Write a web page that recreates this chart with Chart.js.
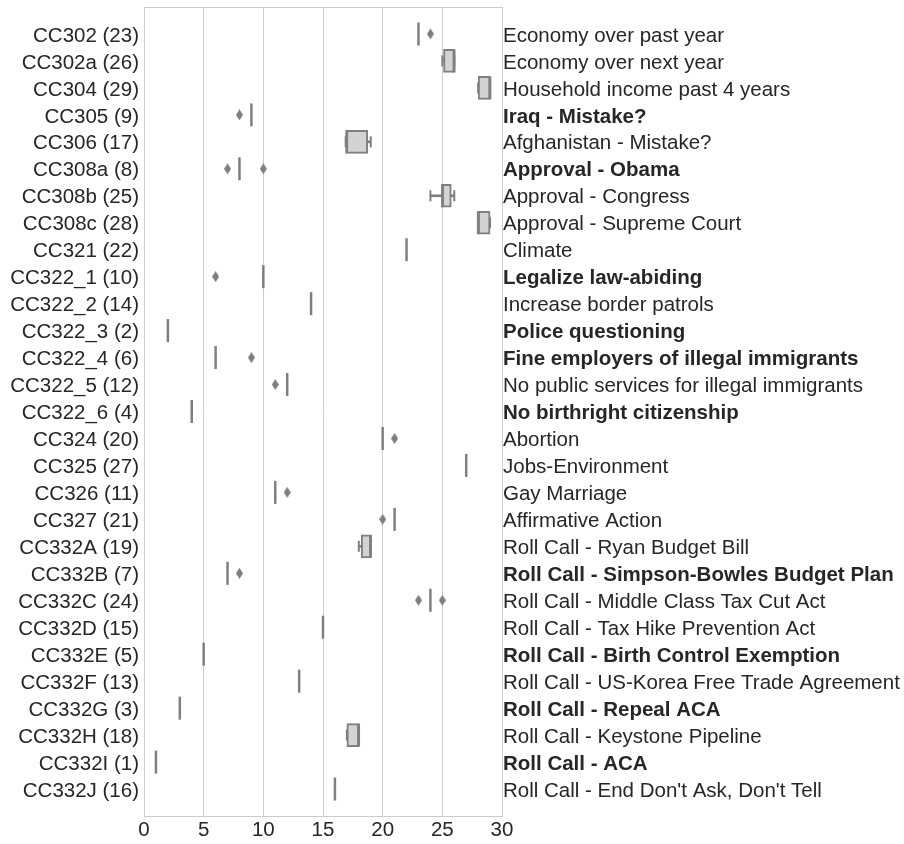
<!DOCTYPE html>
<html>
<head>
<meta charset="utf-8">
<script src="https://cdn.jsdelivr.net/npm/chart.js@4.4.0/dist/chart.umd.min.js"></script>
<style>
  body { margin: 0; background: #fff; }
  #wrap { width: 904px; height: 844px; }
</style>
</head>
<body>
<div id="wrap"><canvas id="chart" width="904" height="844"></canvas></div>
<script>
const codes = [
  'CC302 (23)', 'CC302a (26)', 'CC304 (29)', 'CC305 (9)', 'CC306 (17)', 'CC308a (8)',
  'CC308b (25)', 'CC308c (28)', 'CC321 (22)', 'CC322_1 (10)', 'CC322_2 (14)', 'CC322_3 (2)',
  'CC322_4 (6)', 'CC322_5 (12)', 'CC322_6 (4)', 'CC324 (20)', 'CC325 (27)', 'CC326 (11)',
  'CC327 (21)', 'CC332A (19)', 'CC332B (7)', 'CC332C (24)', 'CC332D (15)', 'CC332E (5)',
  'CC332F (13)', 'CC332G (3)', 'CC332H (18)', 'CC332I (1)', 'CC332J (16)'
];
const topics = [
  'Economy over past year', 'Economy over next year', 'Household income past 4 years',
  'Iraq - Mistake?', 'Afghanistan - Mistake?', 'Approval - Obama', 'Approval - Congress',
  'Approval - Supreme Court', 'Climate', 'Legalize law-abiding', 'Increase border patrols',
  'Police questioning', 'Fine employers of illegal immigrants',
  'No public services for illegal immigrants', 'No birthright citizenship', 'Abortion',
  'Jobs-Environment', 'Gay Marriage', 'Affirmative Action', 'Roll Call - Ryan Budget Bill',
  'Roll Call - Simpson-Bowles Budget Plan', 'Roll Call - Middle Class Tax Cut Act',
  'Roll Call - Tax Hike Prevention Act', 'Roll Call - Birth Control Exemption',
  'Roll Call - US-Korea Free Trade Agreement', 'Roll Call - Repeal ACA',
  'Roll Call - Keystone Pipeline', 'Roll Call - ACA', "Roll Call - End Don't Ask, Don't Tell"
];
const boldTopic = [
  false, false, false, true, false, true, false, false, false, true, false, true, true, false,
  true, false, false, false, false, false, true, false, false, true, false, true, false, true, false
];

const medians = [23, 26, 29, 9, 17, 8, 25, 28, 22, 10, 14, 2, 6, 12, 4, 20, 27, 11, 21, 19, 7, 24, 15, 5, 13, 3, 18, 1, 16];
const q1 = [null, 25.1, 28, null, 16.9, null, 25, 28, null, null, null, null, null, null, null,
  null, null, null, null, 18.2, null, null, null, null, null, null, 17, null, null];
const q3 = [null, 26, 29, null, 18.75, null, 25.75, 29, null, null, null, null, null, null, null,
  null, null, null, null, 19, null, null, null, null, null, null, 18, null, null];
const whiskerLo = [null, 25, 28, null, 16.9, null, 24, 28, null, null, null, null, null, null, null,
  null, null, null, null, 18, null, null, null, null, null, null, 17, null, null];
const whiskerHi = [null, 26, 29, null, 19, null, 26, 29, null, null, null, null, null, null, null,
  null, null, null, null, 19, null, null, null, null, null, null, 18, null, null];
const outliers = [[24], [], [], [8], [], [7, 10], [], [], [], [6], [], [], [9], [11], [],
  [21], [], [12], [20], [], [8], [23, 25], [], [], [], [], [], [], []];

const xTicks = [0, 5, 10, 15, 20, 25, 30];

const GRAY = '#7f7f7f';
const FILL = '#d3d3d3';
const TEXT = '#262626';
const LINE = '#cccccc';
const FAMILY = '"Liberation Sans", Arial, sans-serif';

function thinDiamond(w, h, color) {
  const c = document.createElement('canvas');
  c.width = w; c.height = h;
  const g = c.getContext('2d');
  g.fillStyle = color;
  g.beginPath();
  g.moveTo(w / 2, 0); g.lineTo(w, h / 2); g.lineTo(w / 2, h); g.lineTo(0, h / 2);
  g.closePath();
  g.fill();
  return c;
}

const rows = codes.map((_, i) => i);
const hasBox = i => q1[i] !== null;

const boxData = rows.filter(hasBox).map(i => ({ x: [q1[i], q3[i]], y: i }));
const lowWhisk = rows.filter(i => hasBox(i) && whiskerLo[i] < q1[i]).map(i => ({ x: [whiskerLo[i], q1[i]], y: i }));
const highWhisk = rows.filter(i => hasBox(i) && whiskerHi[i] > q3[i]).map(i => ({ x: [q3[i], whiskerHi[i]], y: i }));
const caps = rows.filter(hasBox).flatMap(i => [{ x: whiskerLo[i], y: i }, { x: whiskerHi[i], y: i }]);
const medianPts = rows.map(i => ({ x: medians[i], y: i }));
const outlierPts = rows.flatMap(i => outliers[i].map(v => ({ x: v, y: i })));

const rowTicks = scale => { scale.ticks = rows.map(i => ({ value: i })); };

// side axes: fixed widths, no extra label padding at top/bottom
const fixWidth = w => scale => {
  scale.width = w;
  scale.paddingTop = 0;
  scale.paddingBottom = 0;
};

const yBase = {
  type: 'linear',
  min: -1,
  max: 29,
  reverse: true,
  offset: false,
  grid: { display: false, drawTicks: false, offset: false },
  border: { display: true, color: LINE, width: 1 },
  afterBuildTicks: rowTicks
};

new Chart(document.getElementById('chart'), {
  type: 'bar',
  data: {
    datasets: [
      {
        type: 'scatter', data: outlierPts, order: 5,
        pointStyle: thinDiamond(7, 11, GRAY), radius: 4,
        xAxisID: 'x', yAxisID: 'y'
      },
      {
        type: 'scatter', data: caps, order: 4,
        pointStyle: 'line', rotation: 90, radius: 5.5,
        borderColor: GRAY, borderWidth: 2,
        xAxisID: 'x', yAxisID: 'y'
      },
      {
        data: lowWhisk, order: 4, grouped: false,
        backgroundColor: GRAY, borderWidth: 0, barThickness: 2,
        xAxisID: 'x', yAxisID: 'y'
      },
      {
        data: highWhisk, order: 4, grouped: false,
        backgroundColor: GRAY, borderWidth: 0, barThickness: 2,
        xAxisID: 'x', yAxisID: 'y'
      },
      {
        data: boxData, order: 2, grouped: false,
        backgroundColor: FILL, borderColor: GRAY, borderWidth: 2,
        borderSkipped: false, barThickness: 23,
        xAxisID: 'x', yAxisID: 'y'
      },
      {
        type: 'scatter', data: medianPts, order: 1,
        pointStyle: 'line', rotation: 90, radius: 11.5,
        borderColor: GRAY, borderWidth: 2.5,
        xAxisID: 'x', yAxisID: 'y'
      }
    ]
  },
  options: {
    indexAxis: 'y',
    responsive: false,
    animation: false,
    layout: { padding: 0, autoPadding: false },
    plugins: { legend: { display: false }, tooltip: { enabled: false } },
    scales: {
      x: {
        type: 'linear',
        position: 'bottom',
        min: 0,
        max: 30,
        afterBuildTicks: scale => { scale.ticks = xTicks.map(v => ({ value: v })); },
        ticks: { color: TEXT, padding: 2, font: { size: 20.5, family: FAMILY } },
        grid: { color: LINE, lineWidth: 1, drawTicks: false },
        border: { display: true, color: LINE, width: 1 },
        afterFit: scale => { scale.height = 28; }
      },
      xTop: {
        type: 'linear',
        axis: 'x',
        position: 'top',
        min: 0,
        max: 30,
        ticks: { display: false },
        grid: { display: false, drawTicks: false },
        border: { display: true, color: LINE, width: 1 },
        afterFit: scale => { scale.height = 7; }
      },
      y: Object.assign({}, yBase, {
        axis: 'y',
        position: 'left',
        ticks: {
          autoSkip: false, color: TEXT, padding: 5, labelOffset: 2,
          font: { size: 20.5, family: FAMILY },
          callback: v => codes[v] ?? ''
        },
        afterFit: fixWidth(144)
      }),
      yRight: Object.assign({}, yBase, {
        axis: 'y',
        position: 'right',
        ticks: {
          autoSkip: false, color: TEXT, padding: 1, labelOffset: 2,
          font: ctx => ({ size: 20.5, family: FAMILY, weight: boldTopic[ctx.tick ? ctx.tick.value : ctx.index] ? 'bold' : 'normal' }),
          callback: v => topics[v] ?? ''
        },
        afterFit: fixWidth(402)
      })
    }
  }
});
</script>
</body>
</html>
